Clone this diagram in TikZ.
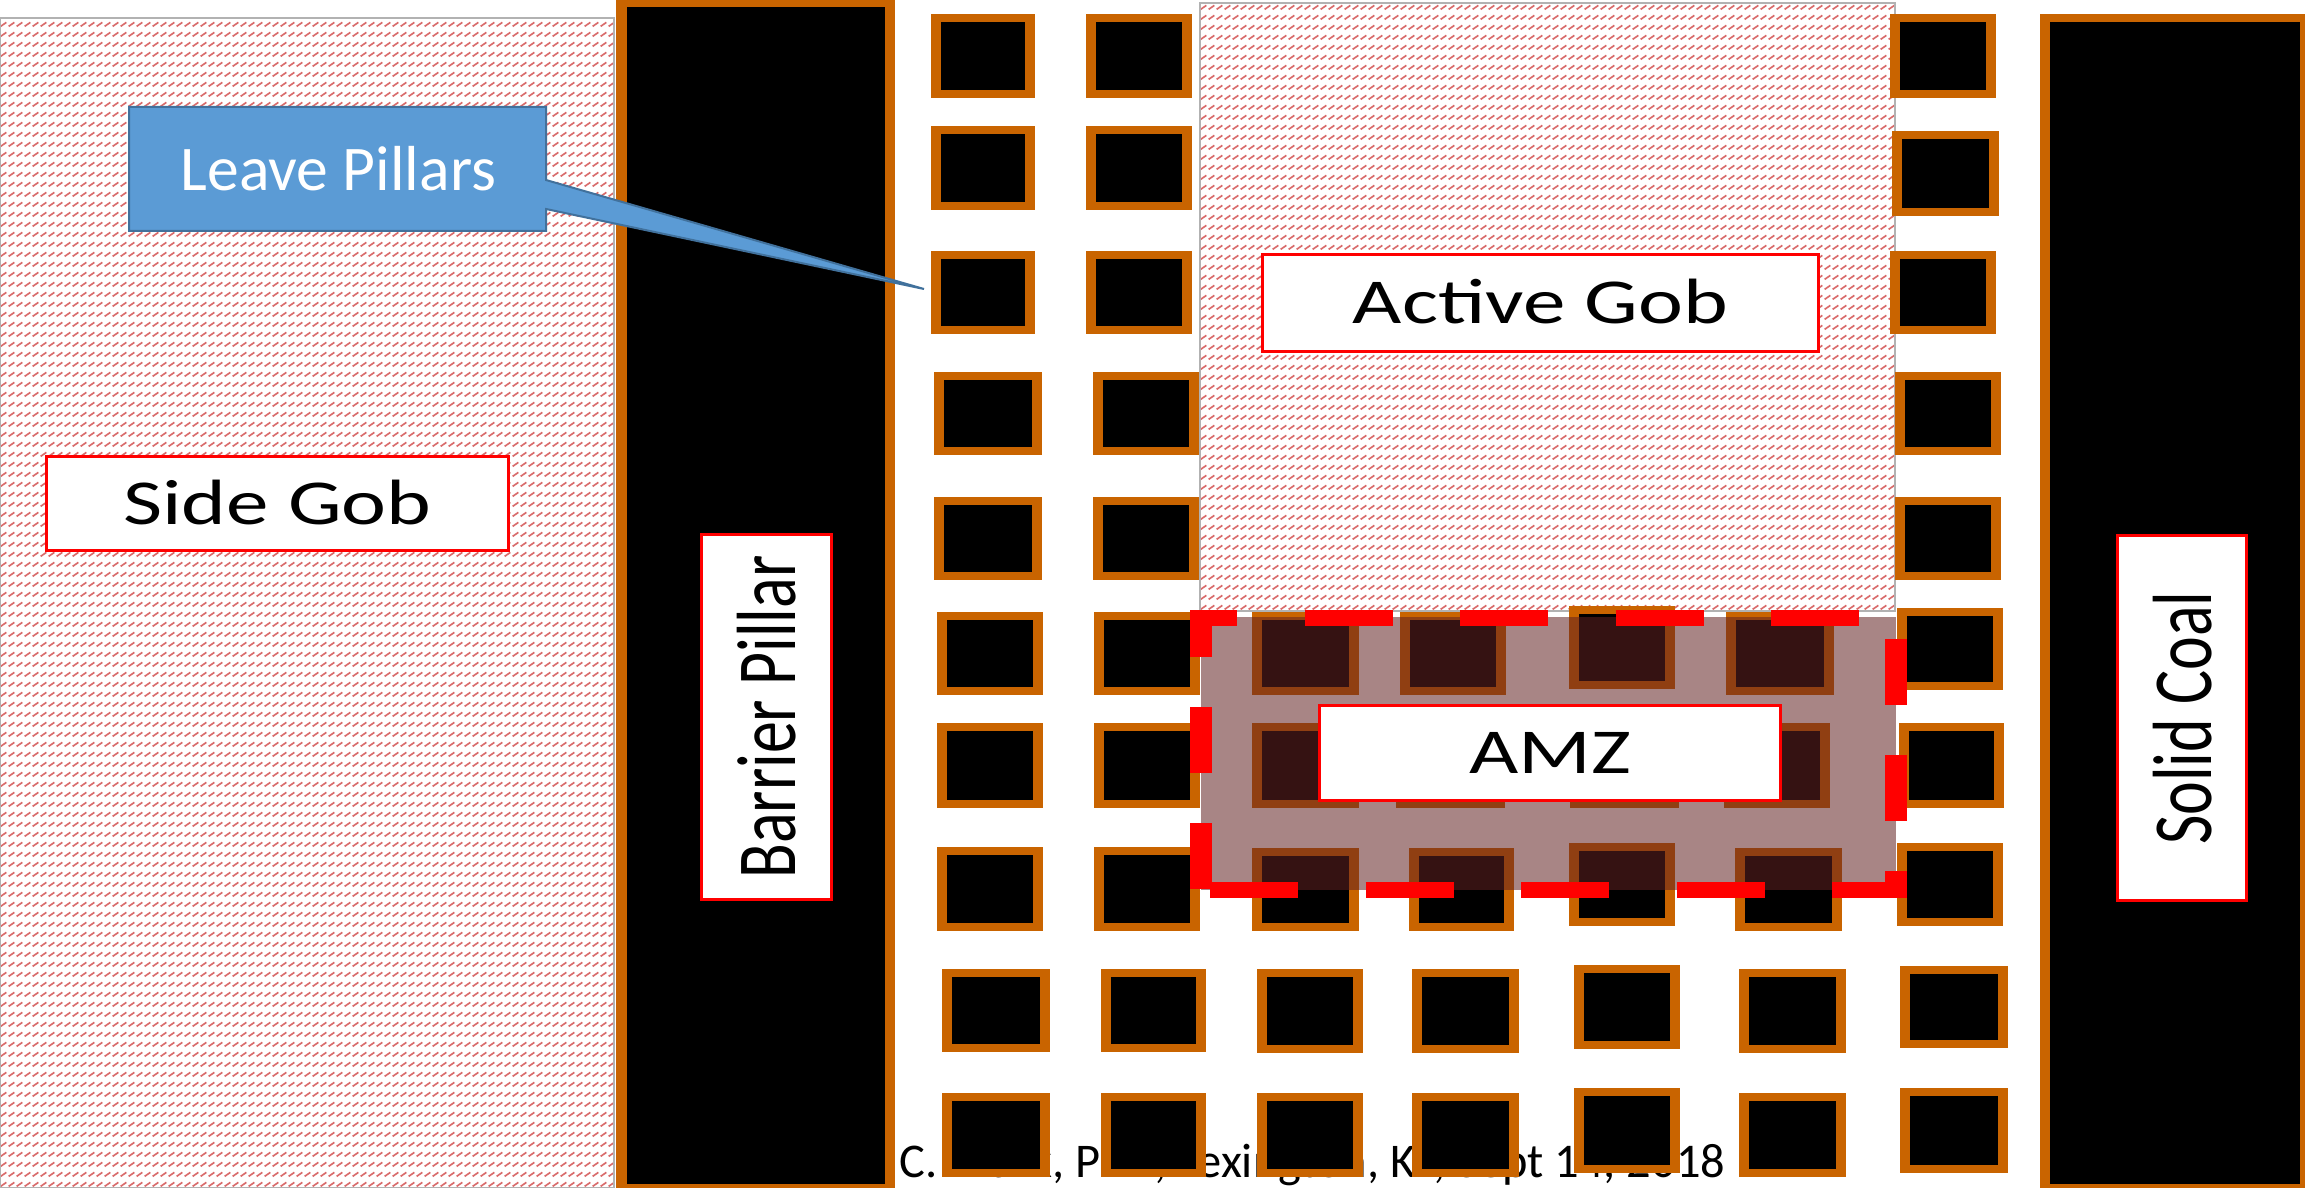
\documentclass[tikz,border=0pt]{standalone}
\usepackage{fontspec}
\setmainfont{Carlito}
\newfontfamily\widefont[FakeStretch=1.33]{Carlito}
\newfontfamily\tallfont[FakeStretch=0.76]{Carlito}
\usetikzlibrary{patterns}

\definecolor{rimorange}{HTML}{C96400}
\definecolor{calloutblue}{HTML}{5B9BD5}
\definecolor{calloutedge}{HTML}{41719C}
\definecolor{amzred}{HTML}{622121}
\definecolor{gobred}{HTML}{D96B6B}

\pgfdeclarepatternformonly{gobdash}{\pgfqpoint{0pt}{0pt}}{\pgfqpoint{2.16pt}{2.93pt}}{\pgfqpoint{2.16pt}{2.93pt}}{
  \pgfsetlinewidth{0.5pt}
  \pgfpathmoveto{\pgfqpoint{0.2pt}{0.8pt}}
  \pgfpathlineto{\pgfqpoint{1.9pt}{2.0pt}}
  \pgfusepath{stroke}
}

\begin{document}
\begin{tikzpicture}[x=0.01cm, y=-0.01cm,
  gob/.style={draw=black!30, line width=0.012cm, pattern=gobdash, pattern color=gobred},
  rim/.style={fill=rimorange},
  core/.style={fill=black},
  tag/.style={draw=red, fill=white, line width=0.03cm, inner sep=0pt, text height=0.41cm, text depth=0pt,
              font=\widefont\fontsize{18.2}{20}\selectfont},
  sidetag/.style={draw=red, fill=white, line width=0.03cm, inner sep=0pt, rotate=90, text height=0.58cm, text depth=0pt,
              minimum width=3.64cm, minimum height=1.29cm, font=\tallfont\fontsize{23.9}{26}\selectfont},
  hdash/.style={red, line width=0.16cm, dash pattern=on 0.88cm off 0.675cm},
  vdash/.style={red, line width=0.22cm, dash pattern=on 0.66cm off 0.5cm},
]
  \useasboundingbox (0,0) rectangle (2305,1188);

  \fill[white] (0,0) rectangle (2305,1188);
  \draw[gob] (0,18) rectangle (614,1188);
  \draw[gob] (1200,3) rectangle (1895,611);

  \node[anchor=base west, inner sep=0pt, font=\fontsize{13.77}{15}\selectfont] (credit) at (899,1177)
    {C. Mark, PhD, Lexington, KY, Sept 14, 2018};

  % big pillars, both run off the page
  \fill[rim] (616,0) rectangle (895,1188);
  \fill[core] (627,7) rectangle (885,1184);
  \fill[rim] (2040,14) rectangle (2305,1188);
  \fill[core] (2050,22) rectangle (2300,1184);

  % small pillars, row by row
  \foreach \xa/\ya/\xb/\yb in {
    931/14/1035/98, 1086/14/1192/98, 1890/14/1996/98,
    931/126/1035/210, 1086/126/1192/210, 1892/131/1999/216,
    931/251/1035/334, 1086/251/1192/334, 1890/251/1996/334,
    934/372/1042/455, 1093/372/1199/455, 1895/372/2001/455,
    934/497/1042/580, 1093/497/1199/580, 1895/497/2001/580,
    937/612/1043/695, 1094/612/1200/695, 1252/612/1359/695, 1400/612/1506/695, 1569/606/1675/689, 1726/612/1834/695, 1897/608/2003/690,
    937/723/1043/808, 1094/723/1200/808, 1252/723/1359/808, 1396/723/1505/808, 1570/723/1679/808, 1724/723/1830/808, 1899/723/2004/808,
    937/847/1043/931, 1094/847/1200/931, 1252/848/1359/931, 1409/848/1514/931, 1569/843/1675/926, 1735/848/1842/931, 1897/843/2003/926,
    942/969/1050/1052, 1101/969/1206/1052, 1257/969/1363/1053, 1412/969/1519/1053, 1574/965/1680/1049, 1739/969/1846/1053, 1900/966/2008/1048,
    942/1093/1050/1177, 1101/1093/1206/1177, 1257/1093/1363/1177, 1412/1093/1519/1177, 1574/1088/1680/1173, 1739/1093/1846/1177, 1900/1088/2008/1173}
  {
    \fill[rim] (\xa,\ya) rectangle (\xb,\yb);
    \fill[core] ({\xa+10},{\ya+8}) rectangle ({\xb-10},{\yb-8});
  }

  % AMZ overlay and its dashed outline
  \fill[amzred, fill opacity=0.55] (1201,617) rectangle (1896,890);
  \draw[hdash, dash phase=0.41cm] (1190,618) -- (1896,618);
  \draw[hdash] (1210,890) -- (1907,890);
  \draw[vdash, dash phase=0.19cm] (1201,610) -- (1201,890);
  \draw[vdash] (1896,639) -- (1896,898);

  \node[tag, minimum width=4.61cm, minimum height=0.93cm] (sidegob) at (277.5,503.5) {Side Gob};
  \node[tag, minimum width=5.56cm, minimum height=0.96cm] (activegob) at (1540.5,303) {Active Gob};
  \node[tag, minimum width=4.61cm, minimum height=0.95cm] (amz) at (1550,753) {AMZ};
  \node[sidetag] (barrier) at (766.5,717) {Barrier Pillar};
  \node[sidetag] (solidcoal) at (2182,718) {Solid Coal};

  % callout body with its long thin tail
  \coordinate (tip) at (924,289);
  \draw[fill=calloutblue, draw=calloutedge, line width=0.02cm, line join=miter]
    (129,107) -- (546,107) -- (546,180) -- (tip) -- (546,209) -- (546,231) -- (129,231) -- cycle;
  \node[inner sep=0pt, text=white, text height=0.4cm, text depth=0pt, font=\fontsize{18.1}{20}\selectfont] (leave) at (338.5,170) {Leave Pillars};
\end{tikzpicture}
\end{document}
